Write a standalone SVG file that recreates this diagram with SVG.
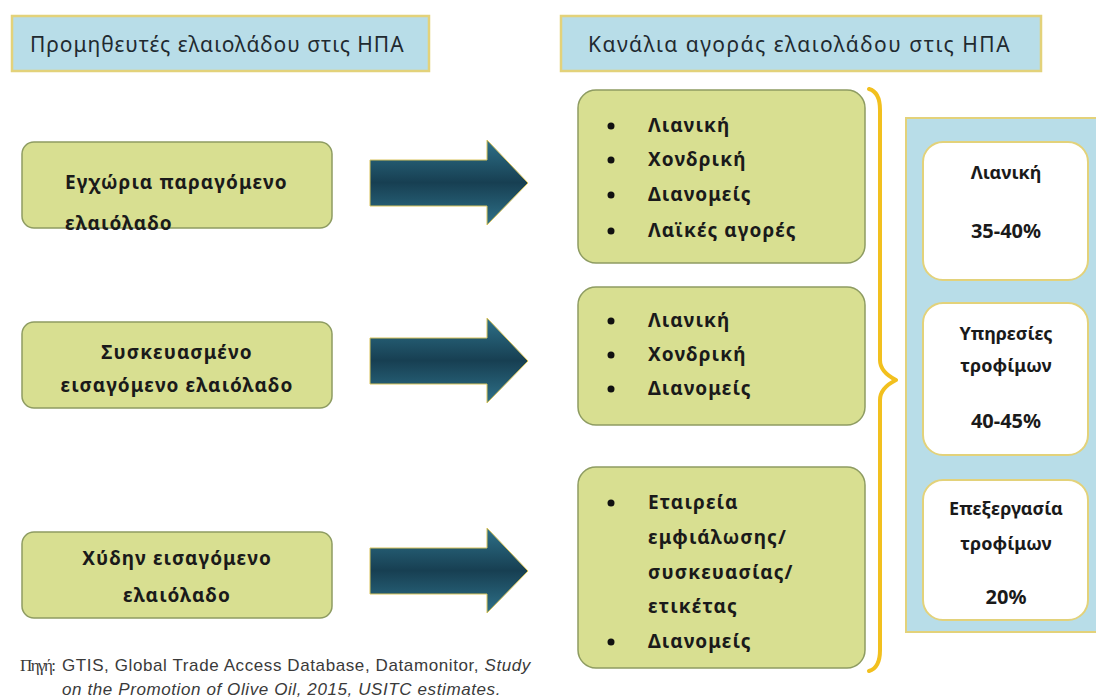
<svg xmlns="http://www.w3.org/2000/svg" width="1096" height="700" viewBox="0 0 1096 700">
<defs>
<linearGradient id="arrowGrad" x1="0" y1="0" x2="0" y2="1">
<stop offset="0" stop-color="#2e7189"/>
<stop offset="0.5" stop-color="#173f52"/>
<stop offset="1" stop-color="#2e7189"/>
</linearGradient>
<style>
.hdr{fill:#b8dde8;stroke:#e3d27a;stroke-width:2.5}
.hdrt{font-family:"Noto Sans","Open Sans",sans-serif;font-size:21px;letter-spacing:0.4px;fill:#1f2a30}
.src{fill:#d8df91;stroke:#8e9c62;stroke-width:1.5}
.t{font-family:"Noto Sans","Open Sans",sans-serif;font-size:19px;letter-spacing:1.1px;font-weight:bold;fill:#1a1a1a}
.arr{fill:url(#arrowGrad);stroke:#d8c35a;stroke-width:1}
.brace{fill:none;stroke:#f2c01e;stroke-width:4;stroke-linecap:round;stroke-linejoin:round}
.panel{fill:#b8dde8;stroke:#e3d27a;stroke-width:2}
.card{fill:#ffffff;stroke:#e3d27a;stroke-width:2}
.ct{font-family:"Noto Sans","Open Sans",sans-serif;font-size:18px;font-weight:bold;fill:#1a1a1a;text-anchor:middle}
.num{font-size:20px}
.foot{font-family:"Liberation Sans","Noto Sans",sans-serif;font-size:17px;letter-spacing:0.6px;fill:#3a3a3a}
.pigi{font-family:"Liberation Serif","DejaVu Serif",serif;font-size:17px;fill:#3a3a3a}
</style>
</defs>
<rect width="1096" height="700" fill="#ffffff"/>

<g id="header-left">
<rect class="hdr" x="12" y="16" width="417" height="55"/>
<text class="hdrt" x="30" y="52" textLength="374">Προμηθευτές  ελαιολάδου στις ΗΠΑ</text>
</g>
<g id="header-right">
<rect class="hdr" x="561" y="16" width="480" height="55"/>
<text class="hdrt" x="588" y="52" textLength="422">Κανάλια αγοράς ελαιολάδου  στις ΗΠΑ</text>
</g>

<g id="src1">
<rect class="src" x="22" y="142" width="310" height="86" rx="12"/>
<text class="t" x="65" y="189">Εγχώρια παραγόμενο</text>
<text class="t" x="65" y="230">ελαιόλαδο</text>
</g>
<g id="src2">
<rect class="src" x="22" y="322" width="310" height="86" rx="12"/>
<text class="t" x="177" y="359" text-anchor="middle">Συσκευασμένο</text>
<text class="t" x="177" y="392" text-anchor="middle">εισαγόμενο ελαιόλαδο</text>
</g>
<g id="src3">
<rect class="src" x="22" y="532" width="310" height="86" rx="12"/>
<text class="t" x="177" y="565" text-anchor="middle">Χύδην εισαγόμενο</text>
<text class="t" x="177" y="602" text-anchor="middle">ελαιόλαδο</text>
</g>

<g id="connectors">
<path class="arr" d="M370,160 H487 V140 L528,183 L487,225 V206 H370 Z"/>
<path class="arr" d="M370,338 H487 V318 L528,361 L487,403 V384 H370 Z"/>
<path class="arr" d="M370,548 H487 V528 L528,571 L487,613 V594 H370 Z"/>
<path class="brace" d="M869,89 Q880,92 880,110 V360 Q880,372 896,380 Q880,388 880,400 V650 Q880,668 869,671"/>
</g>

<g id="chan1">
<rect class="src" x="578" y="90" width="287" height="173" rx="18"/>
<circle cx="611" cy="126" r="3.5" fill="#111"/>
<circle cx="611" cy="160" r="3.5" fill="#111"/>
<circle cx="611" cy="195" r="3.5" fill="#111"/>
<circle cx="611" cy="231" r="3.5" fill="#111"/>
<text class="t" x="648" y="132">Λιανική</text>
<text class="t" x="648" y="166">Χονδρική</text>
<text class="t" x="648" y="201">Διανομείς</text>
<text class="t" x="648" y="237">Λαϊκές αγορές</text>
</g>
<g id="chan2">
<rect class="src" x="578" y="287" width="287" height="138" rx="18"/>
<circle cx="611" cy="321" r="3.5" fill="#111"/>
<circle cx="611" cy="355" r="3.5" fill="#111"/>
<circle cx="611" cy="389" r="3.5" fill="#111"/>
<text class="t" x="648" y="327">Λιανική</text>
<text class="t" x="648" y="361">Χονδρική</text>
<text class="t" x="648" y="395">Διανομείς</text>
</g>
<g id="chan3">
<rect class="src" x="578" y="467" width="287" height="201" rx="18"/>
<circle cx="611" cy="503" r="3.5" fill="#111"/>
<circle cx="611" cy="642" r="3.5" fill="#111"/>
<text class="t" x="648" y="509">Εταιρεία</text>
<text class="t" x="648" y="544">εμφιάλωσης/</text>
<text class="t" x="648" y="579">συσκευασίας/</text>
<text class="t" x="648" y="613">ετικέτας</text>
<text class="t" x="648" y="648">Διανομείς</text>
</g>

<g id="panel">
<rect class="panel" x="906" y="118" width="200" height="514"/>
</g>
<g id="card1">
<rect class="card" x="923" y="142" width="165" height="138" rx="20"/>
<text class="ct" x="1006" y="179">Λιανική</text>
<text class="ct num" x="1006" y="238">35-40%</text>
</g>
<g id="card2">
<rect class="card" x="923" y="303" width="165" height="152" rx="20"/>
<text class="ct" x="1006" y="340">Υπηρεσίες</text>
<text class="ct" x="1006" y="372">τροφίμων</text>
<text class="ct num" x="1006" y="428">40-45%</text>
</g>
<g id="card3">
<rect class="card" x="923" y="480" width="165" height="140" rx="20"/>
<text class="ct" x="1006" y="515">Επεξεργασία</text>
<text class="ct" x="1006" y="550">τροφίμων</text>
<text class="ct num" x="1006" y="604">20%</text>
</g>

<g id="footer">
<text class="pigi" x="20" y="671" textLength="36">Πηγή:</text>
<text class="foot" x="62" y="671">GTIS, Global Trade Access Database, Datamonitor,  <tspan font-style="italic">Study</tspan></text>
<text class="foot" x="62" y="695" font-style="italic">on the Promotion of Olive Oil, 2015, USITC estimates.</text>
</g>
</svg>
